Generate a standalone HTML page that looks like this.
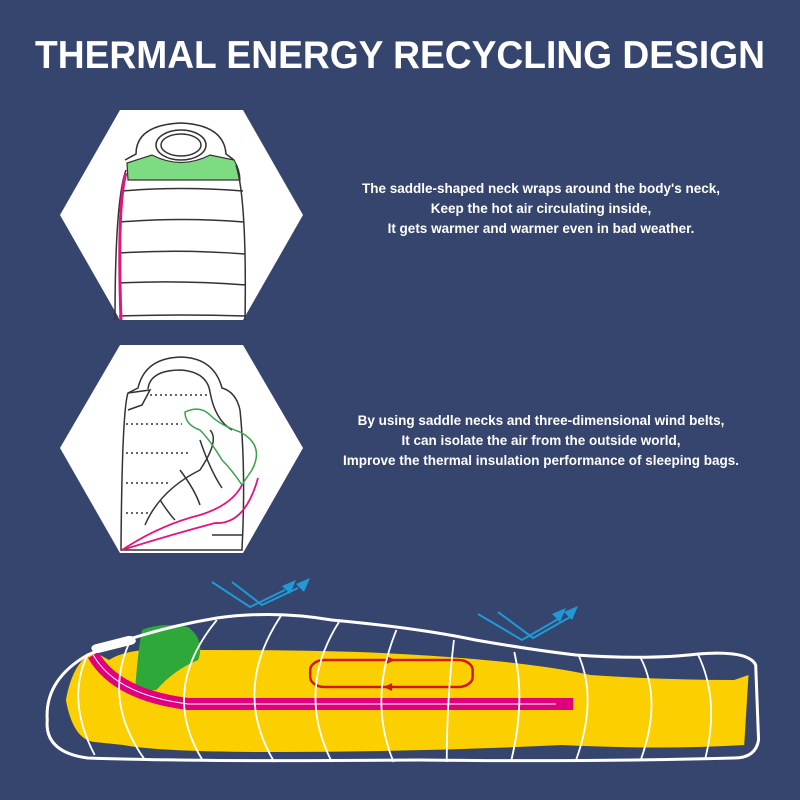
<!DOCTYPE html>
<html><head><style>
body{margin:0;background:#35456e;}
svg{display:block}
text{font-family:"Liberation Sans",sans-serif;font-weight:bold;fill:#fff}
.b *{vector-effect:non-scaling-stroke}
</style></head><body>
<svg width="800" height="800" viewBox="0 0 800 800">
<rect width="800" height="800" fill="#35456e"/>
<text x="400" y="68" font-size="39" text-anchor="middle" textLength="730" lengthAdjust="spacingAndGlyphs">THERMAL ENERGY RECYCLING DESIGN</text>
<g font-size="13.5" text-anchor="middle">
<text x="541" y="193">The saddle-shaped neck wraps around the body's neck,</text>
<text x="541" y="213">Keep the hot air circulating inside,</text>
<text x="541" y="233">It gets warmer and warmer even in bad weather.</text>
<text x="541" y="425">By using saddle necks and three-dimensional wind belts,</text>
<text x="541" y="445">It can isolate the air from the outside world,</text>
<text x="541" y="465">Improve the thermal insulation performance of sleeping bags.</text>
</g>
<!-- hex 1 -->
<polygon points="120,110 243,110 303,215 243,320 120,320 60,215" fill="#fff"/>
<g fill="none" stroke="#333" stroke-width="1.5">
<path d="M125,160 L136,154 Q136,125 181,123 Q224,125 226,154 L234,160"/>
<ellipse cx="181" cy="145" rx="25" ry="15"/>
<ellipse cx="181" cy="145" rx="20" ry="11"/>
</g>
<path d="M127,163 L152,155 Q181,170 210,155 L234,160 Q240,170 240,180 L128,180 Z" fill="#7ddc82" stroke="#333" stroke-width="1.2"/>
<g fill="none" stroke="#333" stroke-width="1.5">
<path d="M126,170 Q115,200 115,320"/>
<path d="M236,165 Q247,200 245,320"/>
<path d="M122,191 Q181,186 243,191"/>
<path d="M120,222 Q181,217 244,222"/>
<path d="M119,253 Q181,249 245,254"/>
<path d="M119,283 Q181,280 246,285"/>
<path d="M119,316 Q181,314 246,316"/>
</g>
<path d="M126,173 Q117,205 121,320" fill="none" stroke="#e0167e" stroke-width="3"/>
<!-- hex 2 -->
<polygon points="120,345 243,345 303,448 243,553 120,553 60,448" fill="#fff"/>
<g fill="none" stroke="#333" stroke-width="1.5">
<path d="M128,393 Q122,410 121,550 L242,550 Q246,470 240,410 Q236,392 222,388 Q214,358 181,357 Q145,358 138,388 Z"/>
<path d="M148,389 Q150,370 181,370 Q207,372 210,392 Q215,420 232,430"/>
<path d="M128,393 L150,390 L142,405 L128,410"/>
<path d="M145,525 Q160,490 200,470 Q220,440 210,430"/>
<path d="M160,500 Q170,515 175,520 M180,470 Q195,490 200,505 M200,440 Q210,470 222,488"/>
<path d="M212,535 L242,535"/>
</g>
<g stroke="#333" stroke-width="1.5" stroke-dasharray="2,3">
<line x1="150" y1="395" x2="208" y2="395"/>
<line x1="126" y1="424" x2="182" y2="424"/>
<line x1="126" y1="453" x2="190" y2="453"/>
<line x1="126" y1="483" x2="170" y2="483"/>
<line x1="126" y1="513" x2="150" y2="513"/>
</g>
<path d="M185,412 Q200,405 210,415 Q220,425 240,432 Q265,445 252,470 Q245,480 242,485 Q232,470 222,460 Q210,440 200,430 Q185,425 185,412 Z" fill="none" stroke="#3aa04a" stroke-width="1.5"/>
<path d="M122,550 Q160,525 200,515 Q232,505 242,485 M122,550 Q170,535 215,523 Q245,525 258,478" fill="none" stroke="#e0167e" stroke-width="1.8"/>
<!-- bottom bag -->
<g class="b" transform="matrix(1.437,0,0,1,-13.1,0)">
<path d="M55,700 Q60,660 75,652 L85,660 Q100,645 150,650 Q250,650 300,655 Q380,662 420,675 Q470,680 520,680 L530,675 L527,745 Q470,750 400,745 Q300,752 200,752 Q120,752 95,745 L75,742 Q60,740 55,700 Z" fill="#fcd000"/>
<path d="M108,630 Q120,622 140,627 Q152,640 147,660 Q130,670 118,690 L103,692 Q105,650 108,630 Z" fill="#2fa83a"/>
<path d="M74,655 Q90,695 140,704 L408,704" fill="none" stroke="#e0007e" stroke-width="12"/>
<path d="M74,655 Q90,695 140,704 L396,704" fill="none" stroke="#fff" stroke-width="1"/>
<rect x="225" y="660" width="113" height="27" rx="10" fill="none" stroke="#d01818" stroke-width="2.5"/>
<polygon points="278,656 284,660 278,664" fill="#d01818"/>
<polygon points="282,683 276,687 282,691" fill="#d01818"/>
<path d="M42,720 Q40,680 70,655 Q110,630 160,618 Q200,610 240,620 Q300,628 340,640 Q380,650 410,655 Q460,660 495,654 Q530,650 535,665 L537,740 Q535,758 520,758 Q420,762 300,760 Q150,762 70,758 Q40,752 42,720 Z" fill="none" stroke="#fff" stroke-width="3"/>
<rect x="72" y="640" width="32" height="9" rx="4" transform="rotate(-20 88 644)" fill="#fff"/>
<g fill="none" stroke="#fff" stroke-width="1.8">
<path d="M70,655 Q55,700 75,755"/>
<path d="M100,640 Q80,700 110,760"/>
<path d="M160,620 Q120,690 150,760"/>
<path d="M205,615 Q170,690 200,762"/>
<path d="M245,622 Q215,690 240,762"/>
<path d="M285,630 Q265,700 283,762"/>
<path d="M325,640 Q320,700 320,762"/>
<path d="M367,652 Q375,700 365,760"/>
<path d="M412,656 Q425,700 410,760"/>
<path d="M455,658 Q470,700 455,760"/>
<path d="M495,655 Q510,700 500,758"/>
</g>
</g>
<g fill="none" stroke="#1f9ad6" stroke-width="2">
<path d="M212,582 L250,607 L285,590 M232,582 L262,605 L298,588"/>
<path d="M478,614 L522,640 L560,618 M498,612 L533,638 L572,616"/>
</g>
<g fill="#1f9ad6">
<polygon points="296,580 282,586 290,594"/><polygon points="310,578 296,584 304,592"/>
<polygon points="566,608 552,614 560,622"/><polygon points="578,606 564,612 572,620"/>
</g>
</svg>
</body></html>
